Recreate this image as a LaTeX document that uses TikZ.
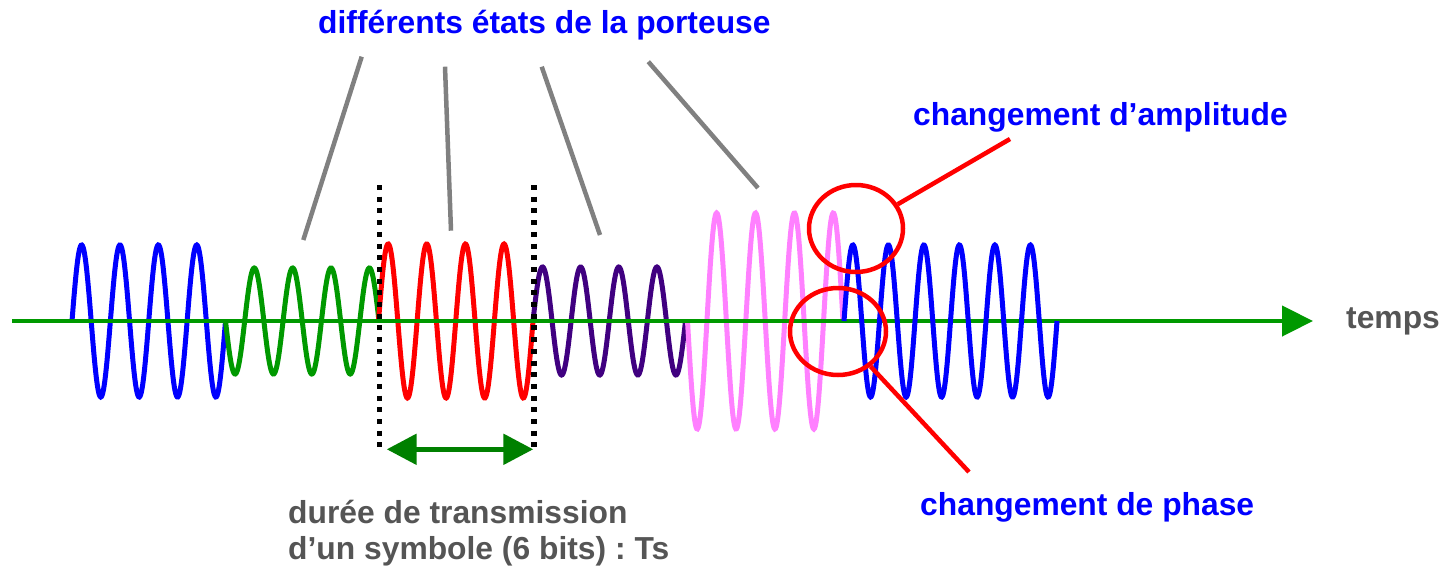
\documentclass[tikz,border=0pt]{standalone}
\usepackage{fontspec}
\setmainfont{Liberation Sans}
\usetikzlibrary{arrows.meta,shapes.geometric}
\definecolor{axisgreen}{RGB}{0,153,0}
\definecolor{darkgreen}{RGB}{0,128,0}
\definecolor{wblue}{RGB}{0,0,255}
\definecolor{wpurple}{RGB}{64,0,128}
\definecolor{wpink}{RGB}{255,128,255}
\definecolor{txtgray}{RGB}{85,85,85}
\definecolor{lgray}{RGB}{128,128,128}
\frenchspacing
\tikzset{
  wave/.style={line width=5pt},
  pointer/.style={draw=lgray, line width=4.5pt},
  redmark/.style={draw=red, line width=4.5pt},
  ring/.style={ellipse, draw=red, line width=4.5pt, inner sep=0pt},
  bluelabel/.style={text=wblue, font=\bfseries\fontsize{31.8}{35}\selectfont, inner sep=0pt, anchor=base west},
  graylabel/.style={text=txtgray, font=\bfseries\fontsize{31.8}{36}\selectfont, inner sep=0pt, anchor=base west, align=left},
  boundary/.style={draw=black, line width=5.5pt, dash pattern=on 5pt off 6.7pt},
}
\begin{document}
\begin{tikzpicture}[x=1pt,y=-1pt]
\useasboundingbox[fill=white] (0,0) rectangle (1444,568);

% waves drawn below the axis
\draw[wave, wblue] plot[domain=72:225.5, samples=220, variable=\t] (\t, {321-76*sin((\t-72)*9.3811)});
\draw[wave, axisgreen] plot[domain=225.5:379, samples=220, variable=\t] (\t, {321+53*sin((\t-225.5)*9.3811)});
\draw[wave, red] plot[domain=378.5:533, samples=220, variable=\t] (\t, {321-77*sin((\t-378.5)*9.3204)});
\draw[wave, wpurple] plot[domain=533:685.5, samples=220, variable=\t] (\t, {321-54*sin((\t-533)*9.4426)});
\draw[wave, wpink] plot[domain=687.5:843, samples=220, variable=\t] (\t, {321+108*sin((\t-687.5)*9.2605)});

% time axis
\coordinate (axstart) at (12,321);
\coordinate (axend) at (1313,321);
\draw[axisgreen, line width=4.5pt, -{Triangle[length=31pt,width=30pt]}] (axstart) -- (axend);
\node[text=txtgray, font=\bfseries\fontsize{31.8}{35}\selectfont, inner sep=0pt, anchor=base west] (temps) at (1346,328.5) {temps};

% blue wave after the phase change (on top of axis)
\draw[wave, wblue] plot[domain=844:1057, samples=330, variable=\t] (\t, {321-76*sin((\t-844)*10.1408)});

% symbol boundaries
\coordinate (b1t) at (379.5,185);
\coordinate (b1b) at (379.5,447);
\coordinate (b2t) at (534,185);
\coordinate (b2b) at (534,447);
\draw[boundary] (b1t) -- (b1b);
\draw[boundary] (b2t) -- (b2b);

% Ts arrow
\coordinate (tsl) at (386.7,449.3);
\coordinate (tsr) at (533.3,449.3);
\draw[darkgreen, line width=5.5pt, {Triangle[length=30pt,width=30pt]}-{Triangle[length=30pt,width=30pt]}] (tsl) -- (tsr);

% title and pointers
\node[bluelabel] (title) at (318,33) {différents états de la porteuse};
\coordinate (p1a) at (361.7,56.7);  \coordinate (p1b) at (303.3,240);
\coordinate (p2a) at (445,66.7);    \coordinate (p2b) at (451,230.7);
\coordinate (p3a) at (541.7,66.7);  \coordinate (p3b) at (600,235);
\coordinate (p4a) at (648.3,61.7);  \coordinate (p4b) at (758,188);
\draw[pointer] (p1a) -- (p1b);
\draw[pointer] (p2a) -- (p2b);
\draw[pointer] (p3a) -- (p3b);
\draw[pointer] (p4a) -- (p4b);

% change markers
\node[ring, minimum width=94pt, minimum height=87pt] (amp) at (856,228.5) {};
\node[ring, minimum width=96pt, minimum height=87pt] (pha) at (838,331.5) {};
\coordinate (ampend) at (1010,139);
\coordinate (phaend) at (969,472);
\draw[redmark] (amp) -- (ampend);
\draw[redmark] (pha) -- (phaend);
\node[bluelabel] (amplabel) at (913,125) {changement d’amplitude};
\node[bluelabel] (phalabel) at (920,515) {changement de phase};

% duration label (base anchor = baseline of last line)
\node[graylabel] (duree) at (288,559) {durée de transmission\\d’un symbole (6 bits) : Ts};
\end{tikzpicture}
\end{document}
